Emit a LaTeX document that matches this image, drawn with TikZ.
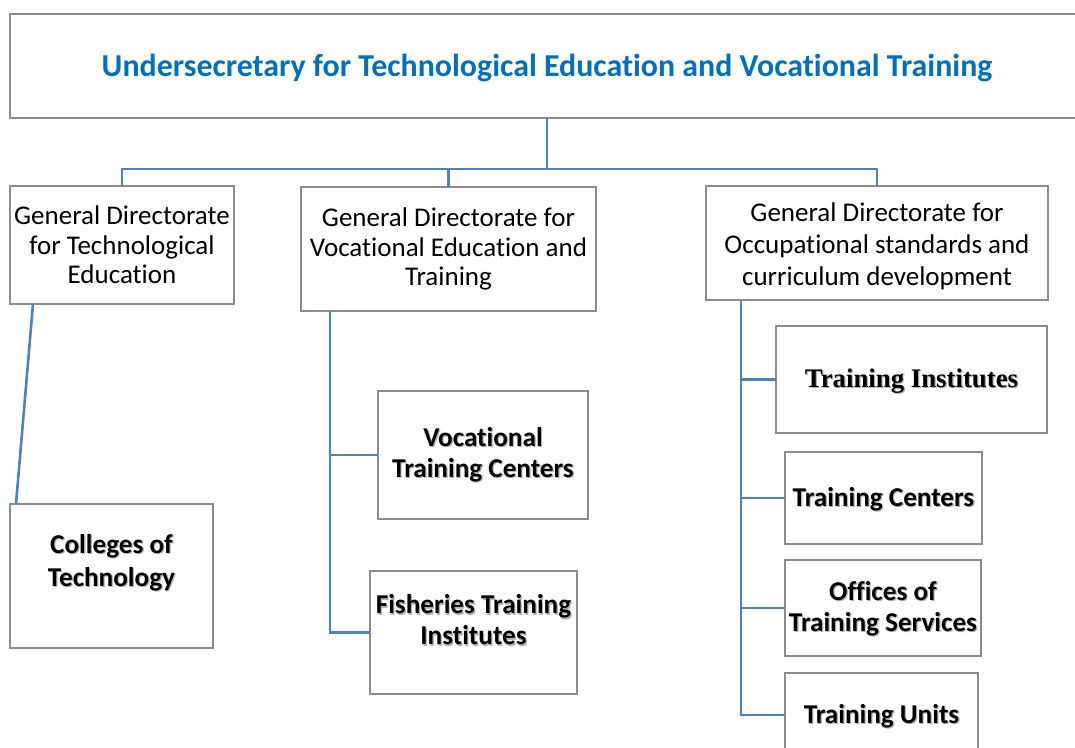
\documentclass[tikz,border=0pt]{standalone}
\usepackage{fontspec}
\setmainfont{Carlito}[Ligatures=NoCommon]
\newfontfamily\timesfont{Liberation Serif}
\definecolor{linkblue}{RGB}{79,129,189}
\definecolor{titleblue}{RGB}{0,112,192}
\definecolor{edgegray}{RGB}{140,140,140}
% bold text with a soft drop shadow
\newcommand\shd[1]{\makebox[0pt][l]{\kern1.2pt\raisebox{-1.2pt}{\textcolor{black!30}{#1}}}#1}
\begin{document}
\begin{tikzpicture}[x=1pt,y=-1pt,
  orgbox/.style={draw=edgegray,line width=1.6pt,fill=white,rectangle,inner sep=0pt,outer sep=0pt,align=center},
  dirtext/.style={font=\fontsize{27}{29.5}\selectfont},
  unittext/.style={font=\fontsize{27.2}{31}\selectfont\bfseries},
  conn/.style={draw=linkblue,line width=2.6pt}]
\useasboundingbox (0,0) rectangle (1075,747);
\begin{scope}
\clip (0,0) rectangle (1075,747);

% connectors from the head office
\coordinate (bus) at (547,169);

% head office
\node[orgbox,minimum width=1074pt,minimum height=104pt,
      label={[font=\fontsize{31.9}{34}\selectfont\bfseries,text=titleblue,yshift=-2.5pt]center:{Undersecretary for Technological Education and Vocational Training}}] (top) at (547,66) {};

% general directorates
\node[orgbox,dirtext,minimum width=224pt,minimum height=118pt] (g1) at (122,245)
  {General Directorate\\for Technological\\Education};
\node[orgbox,dirtext,minimum width=295pt,minimum height=124pt] (g2) at (448.5,249)
  {General Directorate for\\Vocational Education and\\Training};
\node[orgbox,minimum width=342pt,minimum height=114pt,
      label={[font=\fontsize{27}{32}\selectfont,align=center,yshift=-3.5pt]center:{General Directorate for\\Occupational standards and\\curriculum development}}] (g3) at (877,243) {};

% units
\node[orgbox,minimum width=203pt,minimum height=144pt,
      label={[font=\fontsize{27.2}{33}\selectfont\bfseries,align=center,yshift=13pt]center:{\shd{Colleges of}\\\shd{Technology}}}] (col) at (111.5,576) {};
\node[orgbox,unittext,minimum width=210pt,minimum height=128pt] (vtc) at (483,455)
  {\shd{Vocational}\\\shd{Training Centers}};
\node[orgbox,minimum width=207pt,minimum height=123pt,
      label={[unittext,align=center,yshift=12pt]center:{\shd{Fisheries Training}\\\shd{Institutes}}}] (fish) at (473.5,632.5) {};
\node[orgbox,minimum width=271pt,minimum height=107pt,
      label={[font=\fontsize{26.8}{31}\selectfont\timesfont\bfseries,yshift=-2pt]center:{\shd{Training Institutes}}}] (ti) at (911.5,379.5) {};
\node[orgbox,minimum width=197pt,minimum height=92pt,
      label={[unittext,yshift=-2pt]center:{\shd{Training Centers}}}] (tc) at (883.5,498) {};
\node[orgbox,minimum width=196pt,minimum height=96pt,
      label={[unittext,align=center,yshift=-1.5pt]center:{\shd{Offices of}\\\shd{Training Services}}}] (ots) at (883,608) {};
\node[orgbox,minimum width=193pt,minimum height=84pt,
      label={[unittext,yshift=-2pt]center:{\shd{Training Units}}}] (tu) at (881.5,715) {};

\draw[conn] (top.south) -- (bus);
\draw[conn] (g1.north) |- (bus) -| (g3.north);
\draw[conn] (g2.north) -- (g2.north |- bus);

% technological education branch
\coordinate (t1) at (33,304);
\draw[conn] (t1) -- ([xshift=6pt]col.north west);

% vocational education branch
\coordinate (t2) at (330,311);
\draw[conn] (t2) |- (fish.west);
\draw[conn] (t2 |- vtc.west) -- (vtc.west);

% occupational standards branch
\coordinate (t3) at (741,300);
\draw[conn] (t3) |- (tu.west);
\draw[conn] (t3 |- ti.west) -- (ti.west);
\draw[conn] (t3 |- tc.west) -- (tc.west);
\draw[conn] (t3 |- ots.west) -- (ots.west);
\end{scope}
\end{tikzpicture}
\end{document}
